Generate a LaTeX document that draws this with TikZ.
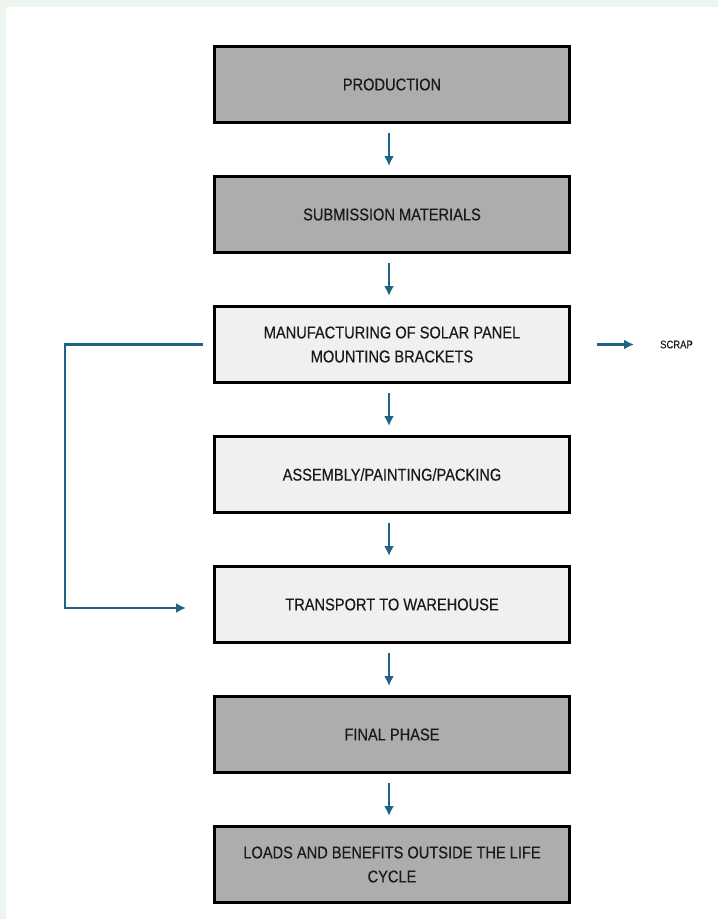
\documentclass[tikz,border=0pt]{standalone}
\usepackage{fontspec}
\setmainfont[FakeStretch=0.86,FakeBold=0.4]{Liberation Sans}
\usetikzlibrary{positioning,arrows.meta}
\definecolor{boxdark}{HTML}{ADADAD}
\definecolor{boxlight}{HTML}{F0F0F0}
\definecolor{flowblue}{HTML}{1F6385}
\definecolor{bgtint}{HTML}{EEF5EF}
\definecolor{inkgray}{HTML}{1A1A1A}

\begin{document}
\begin{tikzpicture}
  \tikzstyle{box}=[rectangle, draw=black, line width=3pt, minimum width=355pt, minimum height=76pt,
    align=center, text=inkgray, font=\fontsize{17}{24}\selectfont]
  \tikzstyle{dark}=[box, fill=boxdark]
  \tikzstyle{light}=[box, fill=boxlight]
  \tikzstyle{flow}=[draw=flowblue, line width=2.6pt, -{Latex[length=10pt,width=10pt]}]
  \useasboundingbox (0,0) rectangle (718pt,-919pt);
  \fill [bgtint] (0,0) rectangle (718pt,-919pt);
  \fill [white] (6pt,-7pt) rectangle (718pt,-919pt);
  % boxes
  \draw (392pt,-84.5pt) node (prod) [dark] {PRODUCTION}
    node (subm) [dark, below=51pt of prod] {SUBMISSION MATERIALS}
    node (manu) [light, below=51pt of subm] {MANUFACTURING OF SOLAR PANEL\\MOUNTING BRACKETS}
    node (asm) [light, below=51pt of manu] {ASSEMBLY/PAINTING/PACKING}
    node (trans) [light, below=51pt of asm] {TRANSPORT TO WAREHOUSE}
    node (final) [dark, below=51pt of trans] {FINAL PHASE}
    node (loads) [dark, below=51pt of final] {LOADS AND BENEFITS OUTSIDE THE LIFE\\CYCLE};
  % scrap
  \node (scrap) [right=89pt of manu, inner sep=0pt, text=inkgray, font=\fontsize{11}{13}\selectfont] {SCRAP};
  \coordinate [right=26pt of manu] (scrapout);
  \draw [flow, shorten >=26pt] (scrapout) -- (scrap.west);
  % down arrows
  \foreach \a/\b in {prod/subm, subm/manu, manu/asm, asm/trans, trans/final, final/loads}
    \draw [flow, shorten <=9pt, shorten >=9pt] ([xshift=-3pt]\a.south) -- ([xshift=-3pt]\b.north);
  % feedback loop
  \coordinate [left=10pt of manu] (loopout);
  \coordinate [left=27pt of trans, yshift=-3.5pt] (loopin);
  \draw [flow] (loopout) -- ++(-138pt,0) |- (loopin);
\end{tikzpicture}
\end{document}
